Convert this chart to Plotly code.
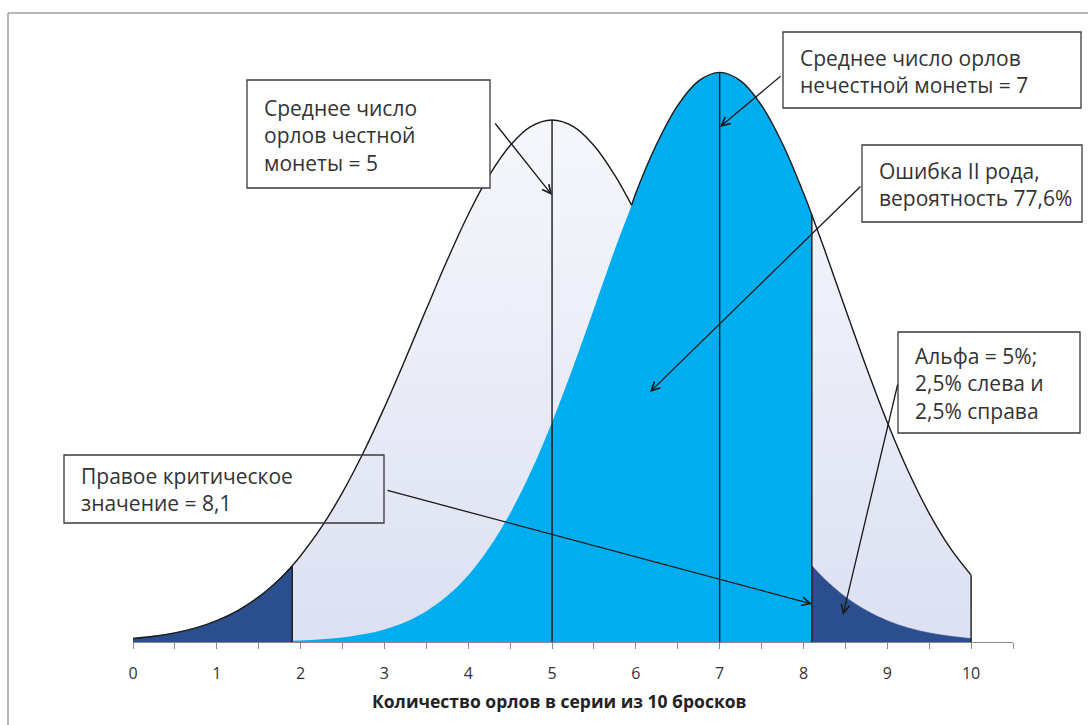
import numpy as np
import plotly.graph_objects as go

# ---- data ----
x_heads = [0, 0.25, 0.5, 0.75, 1, 1.25, 1.5, 1.75, 1.9, 2, 2.25, 2.5, 2.75, 3, 3.25, 3.5, 3.75,
           4, 4.25, 4.5, 4.75, 5, 5.25, 5.5, 5.75, 5.95, 6, 6.25, 6.5, 6.75, 7, 7.25, 7.5, 7.75,
           8, 8.1, 8.25, 8.5, 8.75, 9, 9.25, 9.5, 9.75, 10]
fair_density = [0.0017, 0.0028, 0.0044, 0.0068, 0.0103, 0.0152, 0.0218, 0.0305, 0.0369, 0.0417,
                0.0556, 0.0723, 0.0917, 0.1134, 0.1368, 0.1609, 0.1846, 0.2066, 0.2255, 0.2400,
                0.2492, 0.2523, 0.2492, 0.2400, 0.2255, 0.2110, 0.2066, 0.1846, 0.1609, 0.1368,
                0.1134, 0.0917, 0.0723, 0.0556, 0.0417, 0.0369, 0.0305, 0.0218, 0.0152, 0.0103,
                0.0068, 0.0044, 0.0028, 0.0017]
unfair_density = [0.0000, 0.0000, 0.0000, 0.0000, 0.0001, 0.0001, 0.0002, 0.0004, 0.0006, 0.0007,
                  0.0013, 0.0022, 0.0037, 0.0061, 0.0097, 0.0149, 0.0223, 0.0323, 0.0455, 0.0622,
                  0.0825, 0.1062, 0.1328, 0.1611, 0.1898, 0.2112, 0.2170, 0.2408, 0.2594, 0.2712,
                  0.2753, 0.2712, 0.2594, 0.2408, 0.2170, 0.2064, 0.1898, 0.1611, 0.1328, 0.1062,
                  0.0825, 0.0622, 0.0455, 0.0323]
fair_mean = 5
unfair_mean = 7
left_critical = 1.9
right_critical = 8.1
curves_cross = 5.95
x_end = 10
tick_values = [0, 1, 2, 3, 4, 5, 6, 7, 8, 9, 10]
tick_labels = ["0", "1", "2", "3", "4", "5", "6", "7", "8", "9", "10"]
axis_title = "Количество орлов в серии из 10 бросков"
box_texts = [
    "Среднее число<br>орлов честной<br>монеты = 5",
    "Среднее число орлов<br>нечестной монеты = 7",
    "Ошибка II рода,<br>вероятность 77,6%",
    "Альфа = 5%;<br>2,5% слева и<br>2,5% справа",
    "Правое критическое<br>значение = 8,1",
]

# ---- styling ----
LAV_BOTTOM = "#DCE0F2"
LAV_TOP = "#F8F9FD"
NAVY = "#2B4E8E"
BLUE = "#00AEEF"
LINE = "#1a1a1a"
TEXT = "#333333"
FONT = "Open Sans"

X = np.array(x_heads, dtype=float)
F = np.array(fair_density)
U = np.array(unfair_density)


def val(arr, xv):
    return float(arr[np.argmin(np.abs(X - xv))])


def seg(arr, lo, hi):
    m = (X >= lo - 1e-9) & (X <= hi + 1e-9)
    return X[m], arr[m]


grad = dict(type="vertical", colorscale=[[0, LAV_BOTTOM], [1, LAV_TOP]], start=0, stop=0.27)

fig = go.Figure()
# light background areas under both curves
fig.add_trace(go.Scatter(x=X, y=F, mode="lines", line=dict(width=0, shape="spline"),
                         fill="tozeroy", fillgradient=grad, hoverinfo="skip"))
xs, ys = seg(U, left_critical, x_end)
fig.add_trace(go.Scatter(x=xs, y=ys, mode="lines", line=dict(width=0, shape="spline"),
                         fill="tozeroy", fillgradient=grad, hoverinfo="skip"))
# alpha tails (navy)
for lo, hi in [(0, left_critical), (right_critical, x_end)]:
    xs, ys = seg(F, lo, hi)
    fig.add_trace(go.Scatter(x=xs, y=ys, mode="lines", line=dict(width=0.6, color=NAVY, shape="spline"),
                             fill="tozeroy", fillcolor=NAVY, hoverinfo="skip"))
# type II error area (blue)
xs, ys = seg(U, left_critical, right_critical)
fig.add_trace(go.Scatter(x=xs, y=ys, mode="lines", line=dict(width=0, shape="spline"),
                         fill="tozeroy", fillcolor=BLUE, hoverinfo="skip"))
# outline
xs, ys = seg(F, 0, curves_cross)
fig.add_trace(go.Scatter(x=xs, y=ys, mode="lines", line=dict(width=1.4, color=LINE, shape="spline"),
                         hoverinfo="skip"))
xs, ys = seg(U, curves_cross, x_end)
fig.add_trace(go.Scatter(x=xs, y=ys, mode="lines", line=dict(width=1.4, color=LINE, shape="spline"),
                         hoverinfo="skip"))
# vertical lines
for xv, arr in [(left_critical, F), (fair_mean, F), (unfair_mean, U), (right_critical, U), (x_end, U)]:
    fig.add_trace(go.Scatter(x=[xv, xv], y=[0, val(arr, xv)], mode="lines",
                             line=dict(width=1.4, color=LINE), hoverinfo="skip"))

# ---- layout geometry (pixels) ----
W, H = 1088, 725
ML, MR, MT, MB = 133, 75, 42, 83
PW, PH = W - ML - MR, H - MT - MB
XR = [0, 10.5]
YR = [0, 0.29]


def dx(px):
    return XR[0] + (px - ML) / PW * (XR[1] - XR[0])


def dy(py):
    return YR[0] + (H - MB - py) / PH * (YR[1] - YR[0])


def paper_x(px):
    return (px - ML) / PW


def paper_y(py):
    return (H - MB - py) / PH


shapes = [
    dict(type="line", xref="paper", yref="paper", x0=paper_x(8), x1=paper_x(W + 5),
         y0=paper_y(13), y1=paper_y(13), line=dict(color="#a0a0a0", width=1.5)),
    dict(type="line", xref="paper", yref="paper", x0=paper_x(8), x1=paper_x(8),
         y0=paper_y(13), y1=paper_y(H + 5), line=dict(color="#a0a0a0", width=1.5)),
]

# text boxes: (left, top, right, bottom) in pixels, and whether the box is filled
boxes = [(247, 80, 490, 188, True), (783, 32, 1081, 108, True), (862, 145, 1082, 222, True),
         (898, 332, 1080, 433, True), (64, 455, 384, 523, False)]
annotations = []
for (l, t, r, b, filled), txt in zip(boxes, box_texts):
    shapes.append(dict(type="rect", xref="paper", yref="paper", layer="above",
                       x0=paper_x(l), x1=paper_x(r), y0=paper_y(b), y1=paper_y(t),
                       fillcolor="white" if filled else "rgba(0,0,0,0)",
                       line=dict(color="#3a3a3a", width=1.3)))
    annotations.append(dict(
        x=paper_x(l + 15), y=paper_y((t + b) / 2 + 1), xref="paper", yref="paper",
        xanchor="left", yanchor="middle", text=txt, showarrow=False, align="left",
        font=dict(family=FONT, size=21, color=TEXT)))

# arrows: (tail px, head px)
arrows = [((494, 122), (552, 195)), ((782, 75), (720, 127)), ((862, 185), (650, 392)),
          ((898, 383), (843, 615)), ((386, 490), (812, 604))]
for (tx, ty), (hx, hy) in arrows:
    annotations.append(dict(
        x=dx(hx), y=dy(hy), ax=dx(tx), ay=dy(ty), xref="x", yref="y", axref="x", ayref="y",
        text="", showarrow=True, arrowhead=5, arrowsize=1.3, arrowwidth=1.3, arrowcolor=LINE,
        standoff=0, startstandoff=0))

annotations.append(dict(
    x=paper_x(559), y=paper_y(701), xref="paper", yref="paper",
    xanchor="center", yanchor="middle", showarrow=False,
    text="<b>" + axis_title + "</b>", font=dict(family=FONT, size=17.5, color="#222222")))

fig.update_layout(
    width=W, height=H, margin=dict(l=ML, r=MR, t=MT, b=MB),
    paper_bgcolor="white", plot_bgcolor="white", showlegend=False,
    annotations=annotations, shapes=shapes,
    xaxis=dict(range=XR, tickvals=tick_values, ticktext=tick_labels, ticks="outside",
               ticklen=6, tickcolor="#888888", showline=True, linecolor="#888888", linewidth=1.2,
               showgrid=False, zeroline=False, ticklabelstandoff=11,
               tickfont=dict(family=FONT, size=16, color="#333333"),
               minor=dict(dtick=0.5, ticks="outside", ticklen=6, tickcolor="#888888", showgrid=False)),
    yaxis=dict(range=YR, visible=False, showgrid=False, zeroline=False),
)

fig.write_html("out.html")
